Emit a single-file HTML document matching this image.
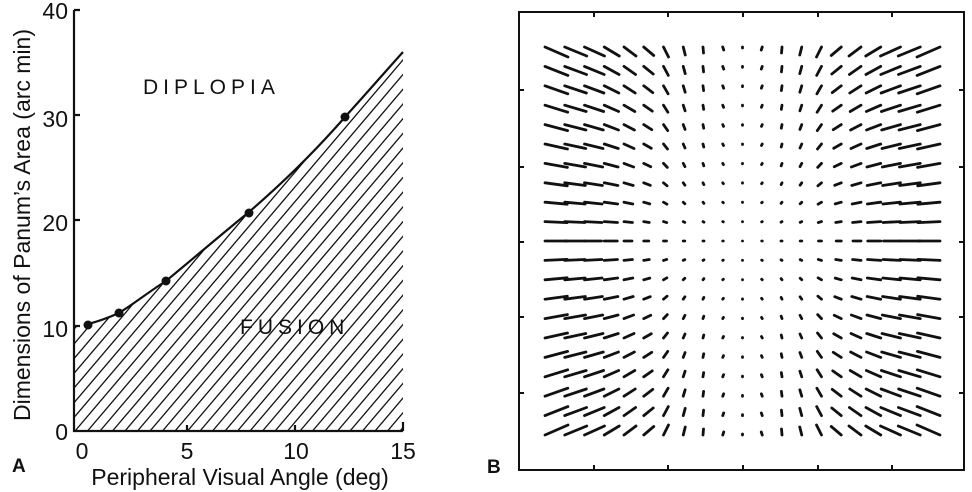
<!DOCTYPE html>
<html><head><meta charset="utf-8"><style>
html,body{margin:0;padding:0;background:#fff;}
svg{display:block;}
text{font-family:"Liberation Sans",sans-serif;fill:#111;}
</style></head><body>
<svg id="s" width="972" height="492" viewBox="0 0 972 492" xmlns="http://www.w3.org/2000/svg">
<defs>
<clipPath id="fc"><path d="M74,431 L74,326 L88,324 C100,321 110,317 119,313 C135,303 150,291 166,281 C195,257 222,234 249,212 C285,181 318,148 345,117 C365,95 385,72 403,52 L403,431 Z"/></clipPath>
</defs>
<g id="hatch" clip-path="url(#fc)" stroke="#111" stroke-width="1.3"></g>
<path d="M88,324 C100,321 110,317 119,313 C135,303 150,291 166,281 C195,257 222,234 249,212 C285,181 318,148 345,117 C365,95 385,72 403,52" fill="none" stroke="#111" stroke-width="2.2"/>
<g fill="#111"><circle cx="88" cy="325" r="4.5"/><circle cx="119" cy="313" r="4.5"/><circle cx="166" cy="281" r="4.5"/><circle cx="249" cy="213" r="4.5"/><circle cx="345" cy="117" r="4.5"/></g>
<g stroke="#111" stroke-width="2.2" fill="none">
<path d="M74,10 L74,431 L403,431"/>
<path d="M74,10 H80 M74,115 H80 M74,220 H80 M74,326 H80"/>
<path d="M187,431 V425 M295,431 V425 M403,431 V422"/>
</g>
<g font-size="23" text-anchor="end">
<text x="68" y="19">40</text><text x="68" y="127">30</text><text x="68" y="231">20</text><text x="68" y="337">10</text><text x="68" y="440">0</text>
</g>
<g font-size="23" text-anchor="middle">
<text x="82" y="459">0</text><text x="187" y="459">5</text><text x="296" y="459">10</text><text x="403" y="459">15</text>
</g>
<text x="240" y="485" font-size="23" text-anchor="middle">Peripheral Visual Angle  (deg)</text>
<text transform="translate(30,225) rotate(-90)" font-size="23" text-anchor="middle">Dimensions of Panum’s Area (arc min)</text>
<text x="143" y="94" font-size="21" letter-spacing="5">DIPLOPIA</text>
<text x="240" y="334" font-size="21" letter-spacing="5">FUSION</text>
<text x="12" y="472" font-size="19" font-weight="bold">A</text>
<text x="487" y="473" font-size="19" font-weight="bold">B</text>
<g stroke="#111" stroke-width="2" fill="none">
<rect x="519" y="12" width="445" height="458"/>
<path d="M519,90 h5 M519,167 h5 M519,242 h5 M519,317 h5 M519,393 h5"/>
<path d="M964,90 h-5 M964,167 h-5 M964,242 h-5 M964,317 h-5 M964,393 h-5"/>
<path d="M594,12 v5 M668,12 v5 M743,12 v5 M818,12 v5 M892,12 v5"/>
<path d="M594,470 v-5 M668,470 v-5 M743,470 v-5 M818,470 v-5 M892,470 v-5"/>
</g>
<g id="field" stroke="#111" stroke-width="2.8" stroke-linecap="round"></g>
</svg>
<script>
var NS="http://www.w3.org/2000/svg";
var h=document.getElementById('hatch');
for(var x0=-400;x0<420;x0+=12.5){var l=document.createElementNS(NS,'line');
l.setAttribute('x1',x0);l.setAttribute('y1',431);l.setAttribute('x2',x0+420*0.85);l.setAttribute('y2',11);h.appendChild(l);}
var f=document.getElementById('field');
var fc=[0,0.5,1,1.5,3,5,8,13,17,20,22];
var ft=[0,1,0.5,2,5,10,12,15,20,22,23];
var hh=[0.1,0.3,0.6,0.8,1,0.85,0.9,0.9,0.9,0.9,1.0];
for(var i=-10;i<=10;i++){for(var j=-10;j<=10;j++){
var gx=742.5+i*19.75, gy=241-j*19.4;
var k=Math.abs(i), a=Math.abs(j);
var mx=fc[k]+(ft[k]-fc[k])*a/10;
var my=a*hh[k];
var sx=i>0?-1:1, sy=j>0?1:-1;
var l=document.createElementNS(NS,'line');
l.setAttribute('x1',gx);l.setAttribute('y1',gy);
l.setAttribute('x2',gx+sx*mx);l.setAttribute('y2',gy+sy*my);
f.appendChild(l);}}
</script>
</body></html>
